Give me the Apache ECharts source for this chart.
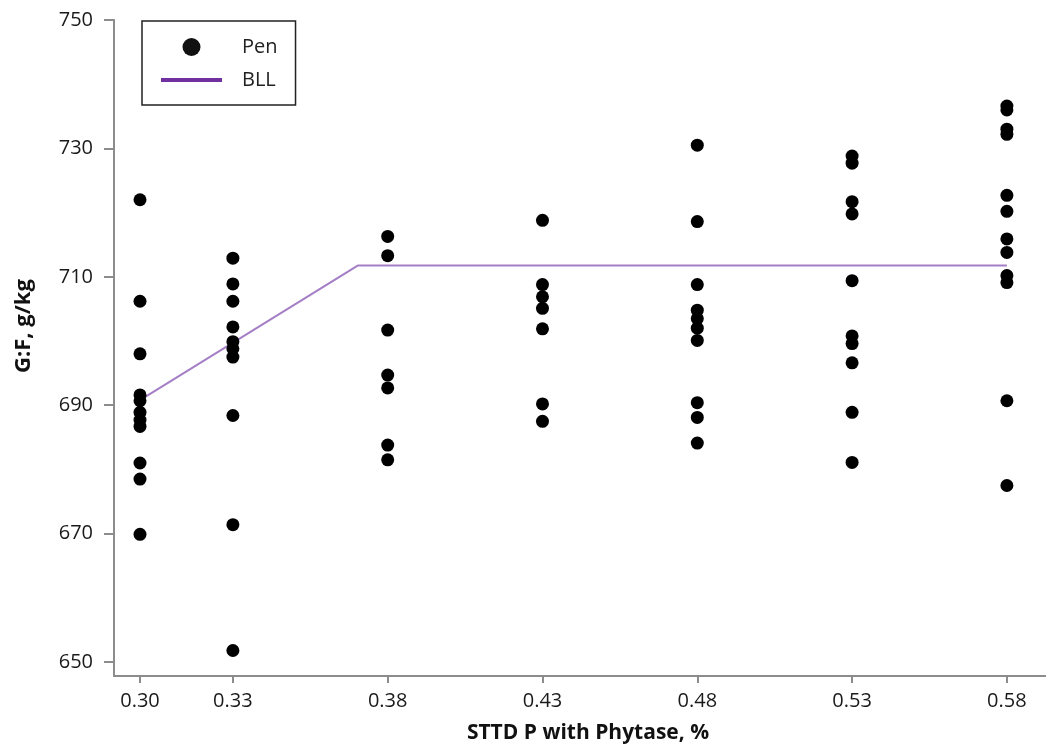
<!DOCTYPE html>
<html>
<head>
<meta charset="utf-8">
<script src="https://cdn.jsdelivr.net/npm/echarts@6/dist/echarts.min.js"></script>
<style>
html,body{margin:0;padding:0;background:#fff;}
#chart{width:1046px;height:749px;}
</style>
</head>
<body>
<div id="chart"></div>
<script>
// Categories (STTD P with phytase, %)
var xLevels = [0.30, 0.33, 0.38, 0.43, 0.48, 0.53, 0.58];
// Pen G:F values (g/kg) per level
var gf030 = [722.0, 706.2, 698.0, 691.6, 690.7, 688.9, 687.7, 686.7, 681.0, 678.5, 669.9];
var gf033 = [712.9, 708.9, 706.2, 702.2, 699.9, 698.8, 697.5, 688.4, 671.4, 651.8];
var gf038 = [716.3, 713.3, 701.7, 694.7, 692.7, 683.8, 681.5];
var gf043 = [718.8, 708.8, 706.9, 705.1, 701.9, 690.2, 687.5];
var gf048 = [730.5, 718.6, 708.8, 704.8, 703.5, 702.0, 700.1, 690.4, 688.1, 684.1];
var gf053 = [728.8, 727.7, 721.7, 719.8, 709.4, 700.8, 699.6, 696.6, 688.9, 681.1];
var gf058 = [736.6, 736.0, 733.0, 732.2, 722.7, 720.2, 715.9, 713.8, 710.2, 709.1, 690.7, 677.5];
// Broken-line linear fit
var bllX = [0.30, 0.3703, 0.58];
var bllY = [690.8, 711.75, 711.75];
// Tick labels
var xTicks = [0.30, 0.33, 0.38, 0.43, 0.48, 0.53, 0.58];
var yTicks = [650, 670, 690, 710, 730, 750];

var groups = [gf030, gf033, gf038, gf043, gf048, gf053, gf058];
var penData = [];
groups.forEach(function (g, i) {
  g.forEach(function (v) { penData.push([xLevels[i], v]); });
});
var bllData = bllX.map(function (x, i) { return [x, bllY[i]]; });

var FONT = '"Open Sans", "DejaVu Sans", sans-serif';
var axisColor = '#8c8c8c';

var chart = echarts.init(document.getElementById('chart'));
chart.setOption({
  animation: false,
  backgroundColor: '#fff',
  grid: { left: 114, right: 0, top: 20, bottom: 70, containLabel: false },
  legend: {
    orient: 'vertical',
    left: 142,
    top: 21,
    backgroundColor: '#fff',
    borderColor: '#222',
    borderWidth: 1.5,
    borderRadius: 0,
    padding: [16, 18, 15, 19],
    itemWidth: 61,
    itemHeight: 18,
    itemGap: 13,
    symbolKeepAspect: true,
    textStyle: { fontFamily: FONT, fontSize: 20, color: '#222', lineHeight: 18, padding: [0, 0, 0, 15] },
    data: [
      { name: 'Pen', icon: 'circle', itemStyle: { color: '#111' } },
      { name: 'BLL', icon: 'path://M0,0H61V4H0Z', itemStyle: { color: '#7030a0', borderWidth: 0 } }
    ]
  },
  xAxis: {
    type: 'value',
    min: 0.29160,
    max: 0.59263,
    name: 'STTD P with Phytase, %',
    nameLocation: 'middle',
    nameGap: 47,
    nameTextStyle: { fontFamily: FONT, fontSize: 21, fontWeight: 'bold', color: '#111', padding: [0, 0, 0, 16] },
    axisLine: { show: true, lineStyle: { color: axisColor, width: 2 } },
    axisTick: { show: true, length: 7, customValues: xTicks, lineStyle: { color: axisColor, width: 2 } },
    axisLabel: {
      customValues: xTicks,
      margin: 15,
      fontFamily: FONT, fontSize: 20, color: '#1a1a1a',
      formatter: function (v) { return v.toFixed(2); }
    },
    splitLine: { show: false }
  },
  yAxis: {
    type: 'value',
    min: 647.83,
    max: 750,
    name: 'G:F, g/kg',
    nameLocation: 'middle',
    nameGap: 79,
    nameTextStyle: { fontFamily: FONT, fontSize: 22, fontWeight: 'bold', color: '#111', padding: [0, 0, 0, 44] },
    axisLine: { show: true, lineStyle: { color: axisColor, width: 2 } },
    axisTick: { show: true, length: 10, customValues: yTicks, lineStyle: { color: axisColor, width: 2 } },
    axisLabel: {
      customValues: yTicks,
      margin: 21,
      fontFamily: FONT, fontSize: 20, color: '#1a1a1a'
    },
    splitLine: { show: false }
  },
  series: [
    {
      name: 'Pen',
      type: 'scatter',
      data: penData,
      symbol: 'circle',
      symbolSize: 13,
      itemStyle: { color: '#000', opacity: 1 },
      z: 3
    },
    {
      name: 'BLL',
      type: 'line',
      data: bllData,
      symbol: 'none',
      lineStyle: { color: '#a57fc6', width: 2 },
      itemStyle: { color: '#7030a0' },
      z: 2
    }
  ]
});
</script>
</body>
</html>
